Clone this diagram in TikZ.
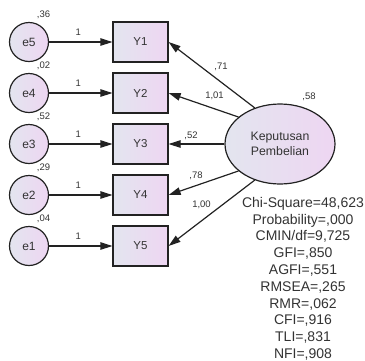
\documentclass[tikz,border=0pt]{standalone}
\usepackage{fontspec}
\setmainfont{Liberation Sans}
\usetikzlibrary{arrows.meta,shapes.geometric}
\definecolor{edgec}{HTML}{222222}
\definecolor{txt}{HTML}{333333}
\definecolor{fillL}{HTML}{E3E5EF}
\definecolor{fillR}{HTML}{EED6F2}
\begin{document}
\begin{tikzpicture}[x=1pt,y=-1pt,
  every node/.style={text=txt},
  err/.style={circle,draw=edgec,line width=1.2pt,minimum size=39pt,inner sep=0pt,
    left color=fillL,right color=fillR,font=\fontsize{12}{14}\selectfont},
  obs/.style={rectangle,draw=edgec,line width=1.2pt,minimum width=55pt,minimum height=40pt,
    inner sep=0pt,left color=fillL,right color=fillR,font=\fontsize{11.5}{14}\selectfont},
  lat/.style={ellipse,draw=edgec,line width=1.2pt,minimum width=110pt,minimum height=80pt,
    inner sep=0pt,left color=fillL,right color=fillR,align=center,
    font=\fontsize{12.3}{15}\selectfont},
  reg/.style={draw=edgec,line width=1.2pt,-{Triangle[length=12pt,width=7.5pt]}},
  est/.style={font=\fontsize{9.5}{11}\selectfont,inner sep=0pt},
]
\useasboundingbox (0,0) rectangle (365,360);

% error terms
\node[err] (e5) at (29,42)  {e5};
\node[err] (e4) at (29,93)  {e4};
\node[err] (e3) at (29,144) {e3};
\node[err] (e2) at (29,195) {e2};
\node[err] (e1) at (29,246) {e1};

% observed indicators
\node[obs] (Y1) at (140.5,42)  {Y1};
\node[obs] (Y2) at (140.5,93)  {Y2};
\node[obs] (Y3) at (140.5,144) {Y3};
\node[obs] (Y4) at (140.5,195) {Y4};
\node[obs] (Y5) at (140.5,246) {Y5};

% latent construct
\node[lat] (K) at (280,144) {Keputusan\\Pembelian};

% error paths (fixed to 1)
\draw[reg] (e5) -- node[est,pos=0.46,above=5.5pt] (f5) {1} (Y1);
\draw[reg] (e4) -- node[est,pos=0.46,above=5.5pt] (f4) {1} (Y2);
\draw[reg] (e3) -- node[est,pos=0.46,above=5.5pt] (f3) {1} (Y3);
\draw[reg] (e2) -- node[est,pos=0.46,above=5.5pt] (f2) {1} (Y4);
\draw[reg] (e1) -- node[est,pos=0.46,above=5.5pt] (f1) {1} (Y5);

% loadings
\draw[reg] (K.125) -- (Y1.east);
\draw[reg] (K.147) -- (Y2.east);
\draw[reg] (K.180) -- (Y3.east);
\draw[reg] (K.213) -- (Y4.east);
\draw[reg] (K.235) -- (Y5.east);

\node[est] (l1) at (221,67)    {,71};
\node[est] (l2) at (214.5,96)  {1,01};
\node[est] (l3) at (191,136)   {,52};
\node[est] (l4) at (196,175.5) {,78};
\node[est] (l5) at (201.5,205) {1,00};

% variances
\node[est] (v5) at (43.5,15)  {,36};
\node[est] (v4) at (43.5,66)  {,02};
\node[est] (v3) at (43.5,117) {,52};
\node[est] (v2) at (43.5,168) {,29};
\node[est] (v1) at (43.5,219) {,04};
\node[est] (vK) at (309,97)   {,58};

% fit statistics
\node[anchor=north,align=center,inner sep=0pt,font=\fontsize{14}{16.8}\selectfont] (fit) at (303,197)
  {Chi-Square=48,623\\Probability=,000\\CMIN/df=9,725\\GFI=,850\\AGFI=,551\\RMSEA=,265\\RMR=,062\\CFI=,916\\TLI=,831\\NFI=,908};
\end{tikzpicture}
\end{document}
